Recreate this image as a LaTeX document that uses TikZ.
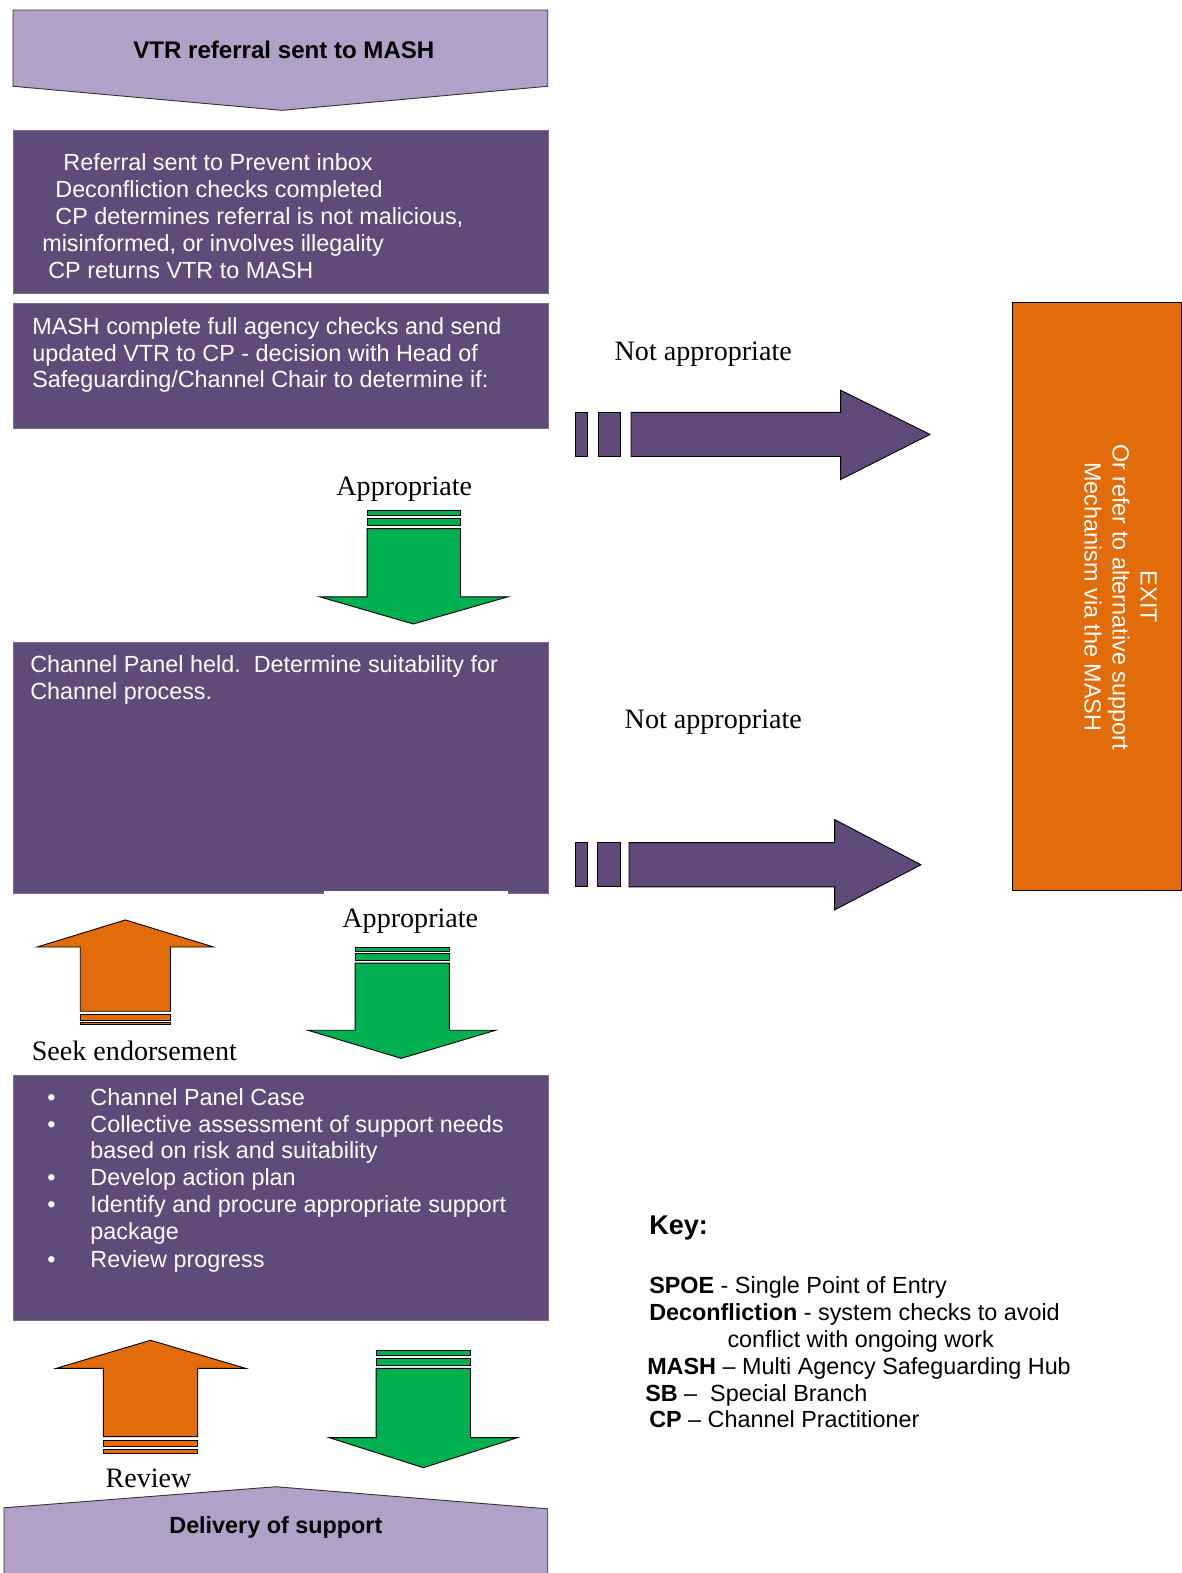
\documentclass[tikz,border=0pt]{standalone}
\usepackage{fontspec}
\setmainfont{Liberation Serif}
\newfontfamily\sansf{Liberation Sans}
\definecolor{lightpurple}{HTML}{B1A0C7}
\definecolor{darkpurple}{HTML}{5F4A7A}
\definecolor{bordpurple}{HTML}{7E6A98}
\definecolor{exitorange}{HTML}{E26B0A}
\definecolor{okgreen}{HTML}{00AF50}
\tikzset{
  lpshape/.style={fill=lightpurple, draw=black!80, line width=0.9},
  dpbox/.style={fill=darkpurple, draw=bordpurple, line width=1, inner sep=0, anchor=north west},
  arr/.style={draw=black, line width=0.9, line join=miter},
  wtxt/.style={text=white, font=\sansf\fontsize{23.3}{27}\selectfont, inner sep=0, anchor=base west},
  ktxt/.style={text=black, font=\sansf\fontsize{23.3}{27}\selectfont, inner sep=0, anchor=base west},
  lbl/.style={font=\fontsize{28}{30}\selectfont, inner sep=0, anchor=base},
}
\begin{document}
\begin{tikzpicture}[x=1pt,y=-1pt]
\useasboundingbox (0,0) rectangle (1178,1568);
\fill[white] (0,0) rectangle (1178,1568);

% top pentagon
\draw[lpshape] (13,10) -- (546,10) -- (546,86) -- (281,110) -- (13,86) -- cycle;
\node[font=\sansf\bfseries\fontsize{24}{28}\selectfont, inner sep=0] (top) at (283,50) {VTR referral sent to MASH};

% box 1
\node[dpbox, minimum width=533, minimum height=162] (b1) at (13,130) {};
\node[wtxt] (b1l1) at (63,170) {Referral sent to Prevent inbox};
\node[wtxt] (b1l2) at (55,197) {Deconfliction checks completed};
\node[wtxt] (b1l3) at (55,224) {CP determines referral is not malicious,};
\node[wtxt] (b1l4) at (42,251) {misinformed, or involves illegality};
\node[wtxt] (b1l5) at (48,278) {CP returns VTR to MASH};

% box 2
\node[dpbox, minimum width=533, minimum height=125] (b2) at (13,302) {};
\node[wtxt] (b2l1) at (32,333) {MASH complete full agency checks and send};
\node[wtxt] (b2l2) at (32,360) {updated VTR to CP - decision with Head of};
\node[wtxt] (b2l3) at (32,386) {Safeguarding/Channel Chair to determine if:};

% not appropriate 1
\node[lbl] (na1) at (701,359) {Not appropriate};
\fill[darkpurple, arr] (574,411) rectangle (586,455);
\fill[darkpurple, arr] (597,411) rectangle (618,455);
\fill[darkpurple, arr] (629,411) -- (838,411) -- (838,389) -- (927,433) -- (838,478) -- (838,455) -- (629,455) -- cycle;

% exit box
\node[fill=exitorange, draw=black, line width=0.9, inner sep=0, anchor=north west, minimum width=168, minimum height=586] (exit) at (1009,301) {};
\node[rotate=-90, text=white, font=\sansf\fontsize{23.3}{28}\selectfont, align=center, inner sep=0] (exittxt) at (1117,595) {EXIT\\Or refer to alternative support\\Mechanism via the MASH};

% appropriate 1
\node[lbl] (ap1) at (403,494) {Appropriate};
\fill[okgreen, arr] (366,509) rectangle (459,514);
\fill[okgreen, arr] (366,517) rectangle (459,524);
\fill[okgreen, arr] (366,527) -- (459,527) -- (459,595) -- (506,595) -- (412,622) -- (319,595) -- (366,595) -- cycle;

% box 3
\node[dpbox, minimum width=533, minimum height=250] (b3) at (13,640) {};
\fill[white] (323,888) rectangle (506,892);
\node[wtxt] (b3l1) at (30,670) {Channel Panel held.\ \ Determine suitability for};
\node[wtxt] (b3l2) at (30,697) {Channel process.};

% not appropriate 2
\node[lbl] (na2) at (711,726) {Not appropriate};
\fill[darkpurple, arr] (574,840) rectangle (586,884);
\fill[darkpurple, arr] (596,840) rectangle (618,884);
\fill[darkpurple, arr] (627,840) -- (832,840) -- (832,817) -- (918,862) -- (832,907) -- (832,884) -- (627,884) -- cycle;

% seek endorsement arrow
\fill[exitorange, arr] (125,917) -- (213,944) -- (170,944) -- (170,1008) -- (80,1008) -- (80,944) -- (37,944) -- cycle;
\fill[exitorange, arr] (80,1011) rectangle (170,1017);
\fill[exitorange, arr] (80,1019) rectangle (170,1021);
\node[lbl] (seek) at (134,1057) {Seek endorsement};

% appropriate 2
\node[lbl] (ap2) at (409,925) {Appropriate};
\fill[okgreen, arr] (354,944) rectangle (448,948);
\fill[okgreen, arr] (354,950) rectangle (448,957);
\fill[okgreen, arr] (354,960) -- (448,960) -- (448,1027) -- (494,1027) -- (400,1055) -- (307,1027) -- (354,1027) -- cycle;

% box 4
\node[dpbox, minimum width=533, minimum height=244] (b4) at (13,1072) {};
\node[wtxt] (bu1) at (47,1102) {•};
\node[wtxt] (bu2) at (47,1129) {•};
\node[wtxt] (bu3) at (47,1182) {•};
\node[wtxt] (bu4) at (47,1209) {•};
\node[wtxt] (bu5) at (47,1263) {•};
\node[wtxt] (b4l1) at (90,1102) {Channel Panel Case};
\node[wtxt] (b4l2) at (90,1129) {Collective assessment of support needs};
\node[wtxt] (b4l3) at (90,1155) {based on risk and suitability};
\node[wtxt] (b4l4) at (90,1182) {Develop action plan};
\node[wtxt] (b4l5) at (90,1209) {Identify and procure appropriate support};
\node[wtxt] (b4l6) at (90,1236) {package};
\node[wtxt] (b4l7) at (90,1263) {Review progress};

% review arrow
\fill[exitorange, arr] (150,1336) -- (245,1364) -- (197,1364) -- (197,1432) -- (103,1432) -- (103,1364) -- (56,1364) -- cycle;
\fill[exitorange, arr] (103,1436) rectangle (197,1442);
\fill[exitorange, arr] (103,1445) rectangle (197,1449);
\node[lbl] (review) at (148,1483) {Review};

% green arrow 3
\fill[okgreen, arr] (375,1346) rectangle (469,1351);
\fill[okgreen, arr] (375,1354) rectangle (469,1361);
\fill[okgreen, arr] (375,1364) -- (469,1364) -- (469,1433) -- (516,1433) -- (422,1463) -- (328,1433) -- (375,1433) -- cycle;

% bottom pentagon
\draw[lpshape] (4,1570) -- (4,1503) -- (275,1482) -- (546,1504) -- (546,1570);
\node[font=\sansf\bfseries\fontsize{23.3}{27}\selectfont, inner sep=0, anchor=base] (deliv) at (275,1529) {Delivery of support};

% key
\node[ktxt, font=\sansf\bfseries\fontsize{27}{30}\selectfont] (key) at (647,1231) {Key:};
\node[ktxt] (k1) at (647,1289) {\textbf{SPOE} - Single Point of Entry};
\node[ktxt] (k2) at (647,1316) {\textbf{Deconfliction} - system checks to avoid};
\node[ktxt] (k3) at (725,1343) {conflict with ongoing work};
\node[ktxt] (k4) at (645,1370) {\textbf{MASH} – Multi Agency Safeguarding Hub};
\node[ktxt] (k5) at (643,1397) {\textbf{SB} –\ \ Special Branch};
\node[ktxt] (k6) at (647,1423) {\textbf{CP} – Channel Practitioner};
\end{tikzpicture}
\end{document}
